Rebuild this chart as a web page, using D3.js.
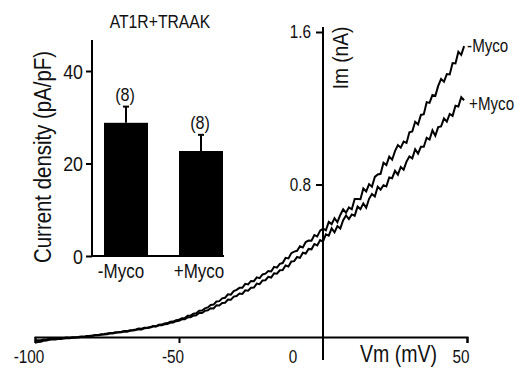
<!DOCTYPE html>
<html><head><meta charset="utf-8">
<script src="https://cdn.jsdelivr.net/npm/d3@7"></script>
<style>body{margin:0;background:#fff}svg{display:block}text{font-family:"Liberation Sans",Arial,sans-serif;fill:#111}</style>
</head><body><div id="c"></div>
<script>
// ---------- Inset bar chart data ----------
const barTitle = "AT1R+TRAAK";
const barCategories = ["-Myco", "+Myco"];
const barValues = [28.8, 22.7];
const barErrors = [3.5, 3.5];
const barN = ["(8)", "(8)"];
const barTicks = [0, 20, 40];

// ---------- I-V ramp data ----------
const rampVoltages = d3.range(-100, 50, 1); // mV, ramp protocol
const imMinusMyco = [
-0.020,-0.017,-0.017,-0.013,-0.012, -0.010,-0.008,-0.009,-0.006,-0.006,
-0.005,-0.003,-0.004,-0.001,-0.002, 0.000,0.003,0.002,0.005,0.006,
0.008,0.011,0.011,0.015,0.016, 0.018,0.021,0.021,0.025,0.026,
0.028,0.032,0.031,0.036,0.037, 0.040,0.044,0.043,0.048,0.049,
0.052,0.058,0.057,0.064,0.065, 0.071,0.073,0.080,0.081,0.088,
0.090,0.099,0.100,0.111,0.112, 0.122,0.125,0.138,0.139,0.150,
0.155,0.168,0.170,0.186,0.188, 0.203,0.206,0.224,0.222,0.241,
0.247,0.258,0.258,0.279,0.276, 0.294,0.293,0.313,0.309,0.328,
0.332,0.346,0.344,0.368,0.364, 0.384,0.388,0.415,0.412,0.440,
0.448,0.452,0.476,0.470,0.498, 0.506,0.505,0.535,0.528,0.558,
0.568,0.560,0.604,0.592,0.623, 0.602,0.640,0.670,0.652,0.680,
0.670,0.724,0.724,0.723,0.779, 0.764,0.802,0.788,0.840,0.853,
0.856,0.914,0.902,0.946,0.930, 0.975,1.007,0.993,1.025,1.018,
1.074,1.078,1.129,1.115,1.165, 1.169,1.232,1.228,1.270,1.265,
1.317,1.354,1.339,1.379,1.377, 1.437,1.435,1.496,1.480,1.526];
const imPlusMyco = [
-0.030,-0.026,-0.025,-0.020,-0.019, -0.015,-0.013,-0.013,-0.010,-0.010,
-0.008,-0.006,-0.006,-0.004,-0.003, -0.002,0.000,0.000,0.003,0.004,
0.006,0.009,0.009,0.012,0.013, 0.015,0.018,0.018,0.022,0.023,
0.025,0.029,0.028,0.033,0.034, 0.037,0.041,0.040,0.046,0.047,
0.050,0.055,0.055,0.061,0.062, 0.067,0.068,0.075,0.076,0.083,
0.085,0.093,0.093,0.103,0.104, 0.112,0.114,0.126,0.126,0.137,
0.140,0.151,0.150,0.166,0.165, 0.178,0.180,0.196,0.195,0.212,
0.215,0.228,0.226,0.245,0.243, 0.258,0.259,0.280,0.277,0.297,
0.298,0.316,0.312,0.334,0.332, 0.350,0.351,0.375,0.370,0.396,
0.398,0.420,0.415,0.442,0.438, 0.462,0.460,0.488,0.480,0.508,
0.500,0.539,0.532,0.570,0.549, 0.582,0.569,0.613,0.638,0.619,
0.643,0.636,0.684,0.671,0.701, 0.678,0.725,0.750,0.737,0.789,
0.773,0.796,0.790,0.837,0.833, 0.872,0.852,0.892,0.878,0.920,
0.947,0.937,0.985,0.962,0.998, 0.998,1.045,1.036,1.084,1.056,
1.101,1.105,1.147,1.130,1.170, 1.160,1.213,1.209,1.258,1.242];
const traceLabels = ["-Myco", "+Myco"];
const vmTicks = [-100, -50, 0, 50];
const imTicks = [0.8, 1.6];

const W = 515, H = 370, NARROW = 0.85;
const svg = d3.select("#c").append("svg").attr("width", W).attr("height", H);

function label(g, x, y, str, size, anchor, rot) {
  return g.append("text")
    .attr("transform", `translate(${x},${y})` + (rot ? ` rotate(${rot})` : "") + ` scale(${NARROW},1)`)
    .attr("text-anchor", anchor).attr("font-size", size).text(str);
}

// ================= Main I-V plot =================
const x = d3.scaleLinear().domain([-100, 50]).range([35, 467]);
const y = d3.scaleLinear().domain([0, 1.6]).range([337, 32]);
const main = svg.append("g");

// x axis
const xAxis = main.append("g").attr("transform", `translate(0,${y(0)})`)
  .call(d3.axisBottom(x).tickValues(vmTicks.filter(v => v !== 0)).tickSize(6).tickFormat(""));
xAxis.selectAll("path,line").attr("stroke", "#000").attr("stroke-width", 2);
vmTicks.forEach(v => {
  const px = v === 0 ? x(v) - 30 : x(v) - 6;
  label(main, px, 363, String(v), 18, "middle");
});
label(main, 360, 362, "Vm (mV)", 23, "start");

// y axis
const yAxis = main.append("g").attr("transform", `translate(${x(0)},0)`)
  .call(d3.axisLeft(y).tickValues(imTicks).tickSize(7).tickFormat(""));
yAxis.select(".domain").remove();
yAxis.selectAll("line").attr("stroke", "#000").attr("stroke-width", 2);
main.append("line").attr("x1", x(0)).attr("x2", x(0)).attr("y1", y(-0.12)).attr("y2", y(1.626))
  .attr("stroke", "#000").attr("stroke-width", 2);
imTicks.forEach(v => label(main, x(0) - 12, y(v) + 6, String(v.toFixed(1)), 18, "end"));
label(main, x(0) + 25, y(1.6) + 26, "Im (nA)", 22.5, "middle", -90);

// traces
const line = d3.line().x((d, i) => x(rampVoltages[i])).y(d => y(d));
[imMinusMyco, imPlusMyco].forEach(s => {
  main.append("path").datum(s).attr("d", line).attr("fill", "none")
    .attr("stroke", "#000").attr("stroke-width", 2).attr("stroke-linejoin", "miter");
});
const vEnd = rampVoltages[rampVoltages.length - 1];
label(main, x(vEnd) + 3, y(imMinusMyco[imMinusMyco.length - 1]) + 6, traceLabels[0], 17.8, "start");
label(main, x(vEnd) + 5, y(imPlusMyco[imPlusMyco.length - 1]) + 10, traceLabels[1], 17.8, "start");

// ================= Inset bar chart =================
const inset = svg.append("g");
const bx = d3.scalePoint().domain(barCategories).range([126, 201]);
const by = d3.scaleLinear().domain([0, 40]).range([256, 71]);
const barW = 44;

label(inset, 160, 28, barTitle, 18.5, "middle");

inset.selectAll("rect.bar").data(barValues).join("rect").attr("class", "bar")
  .attr("x", (d, i) => bx(barCategories[i]) - barW / 2).attr("width", barW)
  .attr("y", d => by(d)).attr("height", d => by(0) - by(d)).attr("fill", "#000");

// error bars
barValues.forEach((v, i) => {
  const cx = bx(barCategories[i]);
  inset.append("line").attr("x1", cx).attr("x2", cx).attr("y1", by(v)).attr("y2", by(v + barErrors[i]))
    .attr("stroke", "#000").attr("stroke-width", 2);
  inset.append("line").attr("x1", cx - 3).attr("x2", cx + 3).attr("y1", by(v + barErrors[i])).attr("y2", by(v + barErrors[i]))
    .attr("stroke", "#000").attr("stroke-width", 2);
  label(inset, cx - 1, by(v + barErrors[i]) - 6, barN[i], 19, "middle");
  label(inset, cx - 5 + i * 3, 278, barCategories[i], 20, "middle");
});

// bar axes
const bAxis = inset.append("g").attr("transform", "translate(92,0)")
  .call(d3.axisLeft(by).tickValues(barTicks).tickSize(6).tickFormat(""));
bAxis.select(".domain").remove();
bAxis.selectAll("line").attr("stroke", "#000").attr("stroke-width", 2);
inset.append("line").attr("x1", 92).attr("x2", 92).attr("y1", by(46.7)).attr("y2", by(0) + 1)
  .attr("stroke", "#000").attr("stroke-width", 2);
inset.append("line").attr("x1", 91).attr("x2", bx(barCategories[1]) + barW / 2 + 1).attr("y1", by(0)).attr("y2", by(0))
  .attr("stroke", "#000").attr("stroke-width", 2);
barTicks.forEach(t => label(inset, 83, by(t) + 7.5, String(t), 21, "end"));
label(inset, 51, 157, "Current density (pA/pF)", 24, "middle", -90);
</script></body></html>
